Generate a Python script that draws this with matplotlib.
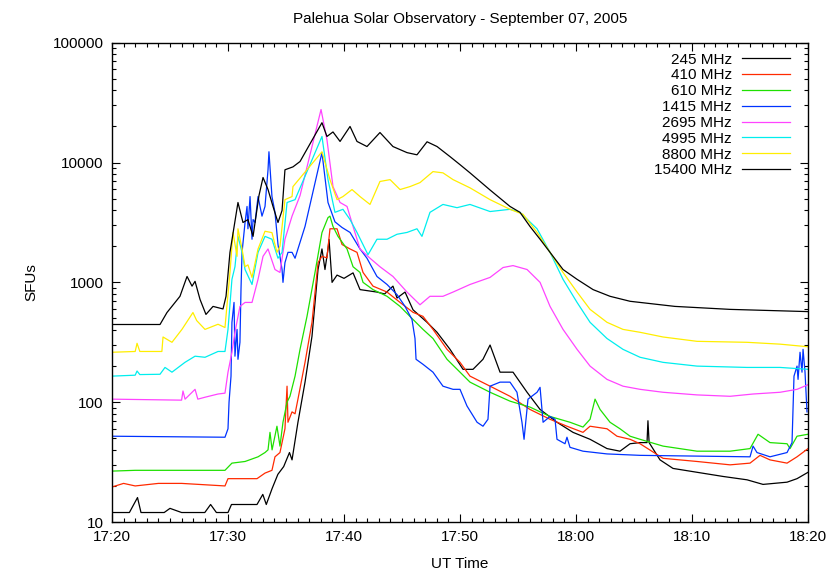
import numpy as np
import matplotlib
matplotlib.use('Agg')
import matplotlib.pyplot as plt
from matplotlib.ticker import MultipleLocator, NullFormatter

plt.rcParams['font.family'] = ['Liberation Sans', 'DejaVu Sans']

# time in minutes after 17:20 UT, flux in SFU
t_245 = [0, 1.5, 2.2, 2.5, 4.5, 5.0, 6.0, 8.0, 8.5, 9.0, 10.0, 10.3, 12.5, 13.0, 13.3, 13.8,
         14.3, 14.8, 15.3, 15.52, 16.03, 16.64, 17.24, 17.76, 18.1, 18.36, 18.62, 18.71, 18.97,
         19.4, 20.0, 20.78, 21.38, 22.84, 23.5, 24.22, 24.57, 25.26, 25.95, 27.16, 28.02, 29.14,
         30.26, 31.12, 31.98, 32.59, 33.45, 34.57, 35.78, 36.9, 38.36, 39.74, 41.21, 42.67, 43.79,
         44.66, 45.52, 46.12, 46.2, 46.3, 47.24, 48.36, 50.43, 52.67, 54.74, 56.12, 58.19, 59.05, 60]
v_245 = [12, 12, 16, 12, 12, 13, 12, 12, 14, 12, 12, 14, 14, 17, 14, 19,
         25, 29, 38, 33, 68, 147, 355, 1280, 1900, 1280, 1900, 2280, 1000,
         1150, 1080, 1200, 870, 830, 800, 930, 740, 830, 590, 464, 383, 276,
         188, 188, 228, 300, 178, 178, 121, 87, 68, 56, 49, 41, 39,
         45, 46, 46, 70, 46, 33, 28, 26, 24, 22.5, 20.6, 21.5, 23, 26]

t_410 = [0, 1.0, 2.0, 4.0, 6.0, 9.74, 10.0, 12.5, 13.19, 13.79, 14.05, 14.48, 14.91, 15.09, 15.17,
         15.52, 15.78, 16.03, 16.64, 17.24, 17.76, 18.1, 18.53, 18.79, 19.4, 19.83, 20.52, 21.12,
         21.64, 22.5, 23.71, 24.83, 25.95, 26.81, 27.67, 28.88, 30.0, 30.86, 32.59, 34.31, 36.03,
         37.76, 39.22, 40.6, 41.21, 42.67, 43.53, 44.66, 45.52, 47.5, 50.43, 53.28, 55.0, 55.86,
         56.72, 58.19, 59.05, 60]
v_410 = [19.6, 21, 20, 21, 21, 20, 23, 23, 25.6, 27, 35, 38, 60, 136, 68,
         83, 80, 106, 215, 464, 1460, 1650, 1600, 2800, 2800, 2070, 1900, 1780,
         1210, 930, 830, 680, 562, 520, 405, 276, 215, 165, 136, 112, 87,
         72, 63, 56, 63, 60, 52, 49, 45, 34, 32, 30, 31, 36,
         33, 31, 35, 41]

t_610 = [0, 2.0, 6.0, 9.74, 10.34, 11.47, 12.59, 13.19, 13.45, 13.62, 13.8, 14.22, 14.48, 14.74,
         15.09, 15.34, 15.78, 16.21, 16.81, 17.5, 18.1, 18.62, 18.79, 19.05, 19.48, 20.26, 20.78,
         21.38, 21.64, 22.5, 23.71, 24.83, 25.95, 26.81, 27.67, 28.88, 30.0, 30.86, 32.59, 34.31,
         36.03, 37.76, 39.48, 40.6, 41.21, 41.64, 42.07, 42.93, 43.79, 44.66, 45.52, 47.5, 50.43,
         53.28, 55.0, 55.69, 56.72, 58.19, 58.45, 59.05, 60]
v_610 = [26.6, 27, 27, 27, 31, 32, 35, 38, 40, 56, 40, 63, 43, 68,
         100, 112, 165, 276, 520, 1210, 2600, 3470, 3570, 2930, 2420, 1900, 1350,
         1210, 1000, 870, 765, 630, 490, 405, 340, 228, 178, 147, 121, 102,
         91, 76, 68, 62, 72, 106, 87, 68, 60, 52, 49, 43, 39,
         39, 41, 54, 46, 45, 41, 52, 54]

t_1415 = [0, 9.74, 10.0, 10.09, 10.26, 10.34, 10.52, 10.6, 10.78, 10.86, 11.03, 11.12, 11.21, 11.47,
          11.64, 11.72, 11.9, 12.07, 12.16, 12.33, 12.59, 12.93, 13.19, 13.45, 13.53, 13.79, 14.05,
          14.31, 14.66, 14.74, 14.91, 15.17, 15.52, 15.78, 16.03, 16.64, 18.1, 18.62, 19.22, 19.83,
          20.52, 21.38, 21.98, 22.84, 23.71, 24.57, 25.26, 25.86, 26.12, 26.21, 26.81, 27.67, 28.53,
          29.4, 30.0, 30.6, 31.47, 31.98, 32.41, 32.59, 33.45, 34.31, 34.91, 35.34, 35.52, 35.86,
          36.64, 36.9, 37.16, 37.76, 38.19, 38.36, 39.05, 39.22, 39.48, 40.6, 42.67, 45.52, 55.0,
          55.26, 55.6, 56.72, 58.19, 58.62, 58.79, 59.05, 59.14, 59.31, 59.48, 59.57, 59.74, 59.91]
v_1415 = [52, 51, 60, 100, 165, 464, 680, 242, 405, 228, 316, 870, 1780, 3160,
          4300, 2800, 5200, 2290, 3340, 3160, 5200, 3570, 4300, 8700, 12300, 5200, 3840,
          2070, 1280, 1000, 1460, 1780, 1780, 1590, 1900, 2930, 12100, 4640, 3200, 2870,
          2610, 1900, 1590, 1120, 960, 790, 630, 490, 340, 228, 207, 178, 136,
          128, 128, 93, 68, 63, 72, 136, 147, 147, 121, 68, 49, 106,
          121, 133, 68, 76, 72, 49, 45, 51, 42, 39, 37, 36, 35,
          43, 38, 35, 38, 46, 165, 200, 155, 261, 178, 276, 178, 83]

t_2695 = [0, 6.0, 6.12, 6.3, 7.16, 7.4, 8.02, 9.14, 9.74, 10.0, 10.34, 10.6, 11.03, 11.47, 12.07,
          12.59, 13.02, 13.45, 14.05, 14.48, 14.91, 15.52, 16.21, 18.02, 18.53, 19.05, 19.66, 20.26,
          20.78, 21.38, 22.24, 23.1, 24.22, 25.43, 26.55, 27.41, 28.53, 29.4, 30.86, 32.59, 33.71,
          34.57, 35.78, 36.9, 37.76, 38.88, 40.09, 41.21, 42.67, 44.05, 45.52, 47.5, 50.43, 53.28,
          55.26, 57.59, 59.05, 60]
v_2695 = [106, 104, 124, 106, 128, 106, 110, 117, 119, 178, 261, 383, 630, 680, 680,
          1060, 1650, 1900, 1280, 1210, 2290, 3570, 5300, 27700, 15500, 6300, 4640, 4300,
          2930, 1900, 1590, 1350, 1120, 830, 650, 765, 765, 830, 960, 1100, 1330,
          1380, 1280, 1000, 630, 405, 276, 200, 155, 136, 128, 121, 115, 112,
          117, 121, 128, 140]

t_4995 = [0, 2.0, 2.16, 2.4, 4.14, 4.57, 5.17, 6.29, 7.16, 8.02, 9.14, 9.74, 10.0, 10.34, 10.6,
          10.86, 11.21, 11.47, 12.07, 12.59, 13.19, 13.79, 14.31, 14.66, 15.09, 15.78, 18.1, 18.62,
          19.22, 19.91, 20.52, 21.12, 22.07, 22.84, 23.71, 24.57, 25.43, 26.29, 26.72, 27.41, 28.53,
          29.74, 30.86, 32.59, 34.31, 35.17, 36.64, 37.76, 38.88, 40.09, 41.21, 42.67, 44.05, 45.52,
          47.5, 50.43, 54.74, 57.59, 60]
v_4995 = [165, 168, 182, 170, 171, 195, 178, 215, 242, 237, 265, 265, 405, 1060, 1350,
          2420, 1780, 1280, 960, 1780, 2420, 2290, 1590, 1780, 4640, 4900, 16500, 7200,
          3840, 4070, 3340, 2610, 1700, 2290, 2290, 2520, 2610, 2800, 2420, 3840, 4470,
          4200, 4470, 3900, 4070, 3840, 2800, 1780, 1060, 680, 464, 340, 276, 237,
          215, 200, 195, 195, 188]

t_8800 = [0, 2.0, 2.16, 2.4, 4.3, 4.4, 5.17, 6.03, 6.98, 7.3, 8.02, 9.14, 9.74, 10.17, 10.43,
          10.78, 10.86, 11.21, 11.47, 11.72, 12.07, 12.59, 13.19, 13.79, 14.22, 14.48, 14.91, 15.52,
          15.6, 18.1, 18.79, 19.4, 19.91, 20.69, 21.38, 22.24, 23.1, 23.97, 24.83, 25.69, 26.55,
          27.67, 28.53, 29.4, 30.86, 32.59, 34.31, 35.43, 36.64, 37.76, 38.88, 40.09, 41.21, 42.67,
          44.05, 45.52, 47.5, 50.43, 54.74, 57.59, 60]
v_8800 = [261, 265, 310, 265, 265, 350, 316, 405, 560, 480, 405, 447, 420, 1210, 2610,
          1650, 2800, 1900, 1350, 1400, 1100, 1900, 2670, 2600, 1780, 2000, 4900, 5200,
          6300, 12300, 7200, 4900, 5200, 5950, 5200, 4470, 6950, 7200, 5950, 6300, 6800,
          8400, 8200, 7200, 6150, 4900, 4070, 3700, 2610, 1780, 1210, 830, 595, 464,
          405, 383, 350, 322, 316, 305, 290]

t_15400 = [0, 4.14, 4.74, 5.86, 6.47, 6.9, 7.16, 7.59, 8.1, 8.71, 9.57, 9.83, 10.17, 10.86, 11.29,
           11.72, 12.16, 12.67, 13.02, 13.45, 13.88, 14.31, 14.66, 14.91, 15.6, 16.21, 18.1, 18.53,
           19.05, 19.66, 20.52, 21.12, 21.98, 23.1, 24.22, 25.43, 26.29, 27.16, 28.02, 29.14, 30.0,
           30.86, 32.59, 34.31, 35.17, 36.03, 36.9, 37.76, 38.88, 40.09, 41.47, 42.93, 44.66, 48.53,
           53.28, 60]
v_15400 = [445, 445, 560, 765, 1120, 930, 1020, 720, 540, 630, 600, 765, 1780, 4640, 3160,
           3340, 2420, 5300, 7500, 5950, 4300, 3160, 3980, 8700, 9200, 10200, 21500, 16500,
           18000, 15000, 20000, 15000, 13600, 17800, 13600, 12100, 11600, 14900, 13600, 11200, 9600,
           8200, 5900, 4300, 3840, 2930, 2290, 1780, 1280, 1060, 870, 765, 695, 630,
           595, 570]

labels = ['245 MHz', '410 MHz', '610 MHz', '1415 MHz', '2695 MHz', '4995 MHz', '8800 MHz', '15400 MHz']
colors = ['black', '#ff2a00', '#1ee000', '#0033ff', '#ff44ff', '#00eeee', '#ffee00', 'black']
times = [t_245, t_410, t_610, t_1415, t_2695, t_4995, t_8800, t_15400]
fluxes = [v_245, v_410, v_610, v_1415, v_2695, v_4995, v_8800, v_15400]

xtick_labels = ['17:20', '17:30', '17:40', '17:50', '18:00', '18:10', '18:20']
ytick_vals = [10, 100, 1000, 10000, 100000]

fig = plt.figure(figsize=(8.32, 5.71), dpi=100)
ax = fig.add_axes([0.1346, 0.0858, 0.8366, 0.8394])

for t, v, c, lab in zip(times, fluxes, colors, labels):
    ax.plot(t, v, color=c, lw=0.9, label=lab)

ax.set_yscale('log')
ax.set_xlim(0, 60)
ax.set_ylim(10, 100000)
ax.set_xticks(np.arange(0, 61, 10), labels=xtick_labels)
ax.xaxis.set_minor_locator(MultipleLocator(1))
ax.set_yticks(ytick_vals, labels=[str(y) for y in ytick_vals])
ax.yaxis.set_minor_formatter(NullFormatter())
ax.tick_params(which='both', direction='in', top=True, right=True, labelsize=11, width=0.8)
ax.tick_params(which='major', length=6, pad=6)
ax.tick_params(which='minor', length=3)
for s in ax.spines.values():
    s.set_linewidth(1.0)

ax.set_title('Palehua Solar Observatory - September 07, 2005', fontsize=11, pad=14)
ax.set_xlabel('UT Time', fontsize=11, labelpad=9)
ax.set_ylabel('SFUs', fontsize=11, labelpad=10)

ax.legend(loc='upper right', frameon=False, markerfirst=False, fontsize=11,
          handlelength=3.1, handletextpad=0.7, labelspacing=0.12,
          borderaxespad=0.25, bbox_to_anchor=(0.988, 1.0))

fig.savefig('out.png', dpi=100)
